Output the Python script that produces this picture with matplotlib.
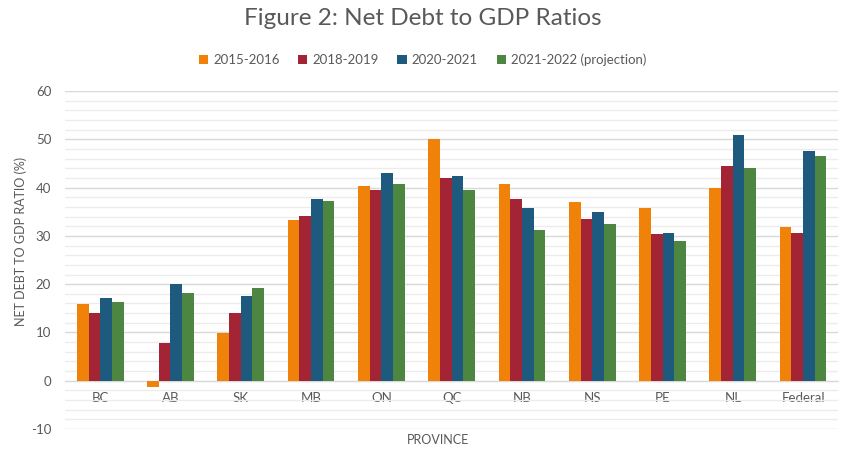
import matplotlib
matplotlib.use("Agg")
import matplotlib.pyplot as plt
import numpy as np
from matplotlib.ticker import MultipleLocator

plt.rcParams['font.family'] = ['Lato', 'DejaVu Sans']
plt.rcParams['axes.unicode_minus'] = False

provinces = ["BC", "AB", "SK", "MB", "ON", "QC", "NB", "NS", "PE", "NL", "Federal"]
y2015 = [15.9, -1.2, 9.9, 33.2, 40.3, 50.1, 40.8, 37.0, 35.7, 40.0, 31.9]
y2018 = [14.1, 7.9, 14.0, 34.2, 39.4, 41.9, 37.6, 33.4, 30.3, 44.5, 30.7]
y2020 = [17.2, 20.1, 17.5, 37.7, 43.1, 42.3, 35.7, 35.0, 30.6, 50.8, 47.6]
y2021 = [16.3, 18.1, 19.2, 37.2, 40.7, 39.4, 31.2, 32.5, 29.0, 44.1, 46.6]
series_names = ["2015-2016", "2018-2019", "2020-2021", "2021-2022 (projection)"]
colors = ["#F0820A", "#A32535", "#1D5A7D", "#4D8640"]

text_col = "#595959"

fig = plt.figure(figsize=(8.45, 4.55), dpi=100)
ax = fig.add_axes([0.077, 0.057, 0.915, 0.743])

x = np.arange(len(provinces))
w = 0.166
for i, (vals, name, c) in enumerate(zip([y2015, y2018, y2020, y2021], series_names, colors)):
    ax.bar(x + (i - 1.5) * w, vals, width=w, color=c, label=name, zorder=3)

ax.set_xlim(-0.5, len(provinces) - 0.5)
ax.set_ylim(-10, 60)
ax.yaxis.set_major_locator(MultipleLocator(10))
ax.yaxis.set_minor_locator(MultipleLocator(2))
ax.grid(axis='y', which='major', color="#d9d9d9", linewidth=1.0, zorder=0)
ax.grid(axis='y', which='minor', color="#ececec", linewidth=1.0, zorder=0)

for s in ["top", "right", "left"]:
    ax.spines[s].set_visible(False)
ax.spines["bottom"].set_position(("data", 0))
ax.spines["bottom"].set_color("#d9d9d9")
ax.spines["bottom"].set_zorder(2)

ax.set_xticks(x)
ax.set_xticklabels(provinces)
ax.tick_params(axis='x', length=0, pad=8, labelsize=9.5, labelcolor=text_col)
ax.tick_params(axis='y', which='both', length=0, pad=10, labelsize=9.5, labelcolor=text_col)

fig.text(0.5, 0.96, "Figure 2: Net Debt to GDP Ratios", ha='center', va='center',
         fontsize=17.5, color=text_col)
fig.text(0.518, 0.033, "PROVINCE", ha='center', va='center', fontsize=9, color=text_col)
fig.text(0.024, 0.47, "NET DEBT TO GDP RATIO (%)", ha='center', va='center',
         rotation=90, fontsize=9, color=text_col)

handles, labels = ax.get_legend_handles_labels()
fig.legend(handles, labels, loc='center', bbox_to_anchor=(0.5, 0.868), ncol=4,
           frameon=False, fontsize=9.5, handlelength=0.7, handleheight=0.7,
           handletextpad=0.4, columnspacing=1.4, labelcolor=text_col)

fig.savefig("out.png", dpi=100)
